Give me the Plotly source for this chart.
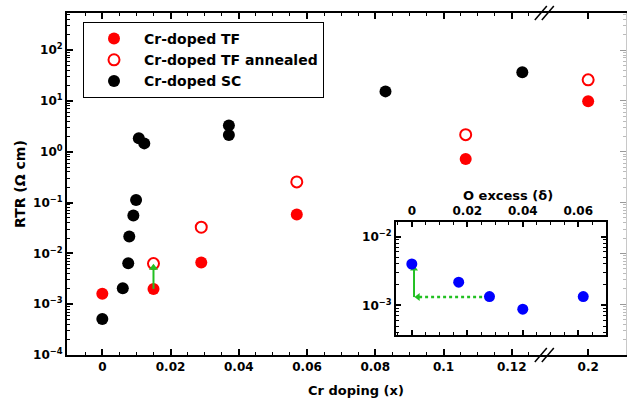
import numpy as np
import plotly.graph_objects as go

# ---------------- data ----------------
tf_x = [0.0, 0.015, 0.029, 0.057, 0.1065, 0.2]
tf_y = [1.6e-3, 2.0e-3, 6.6e-3, 0.058, 0.72, 9.8]

tfa_x = [0.015, 0.029, 0.057, 0.1065, 0.2]
tfa_y = [6.3e-3, 0.0327, 0.255, 2.17, 26.0]

sc_x = [0.0, 0.006, 0.0076, 0.0079, 0.0091, 0.0099, 0.0107, 0.0123, 0.0371, 0.0371, 0.083, 0.1231]
sc_y = [5.1e-4, 2.06e-3, 6.4e-3, 0.0214, 0.0557, 0.112, 1.84, 1.46, 3.3, 2.14, 15.4, 36.7]

inset_x = [0.0, 0.0169, 0.028, 0.040, 0.0618]
inset_y = [4.0e-3, 2.17e-3, 1.34e-3, 8.8e-4, 1.34e-3]

# arrows (data coordinates): shaft from -> to, head drawn at "to"
main_arrow_x = [0.015, 0.015]
main_arrow_y = [2.0e-3, 5.2e-3]
inset_vert_x = [0.0008, 0.0008]
inset_vert_y = [1.32e-3, 3.4e-3]
inset_horiz_x = [0.0275, 0.0022]
inset_horiz_y = [1.32e-3, 1.32e-3]

x_major = [0, 0.02, 0.04, 0.06, 0.08, 0.1, 0.12, 0.2]
x_major_text = ["0", "0.02", "0.04", "0.06", "0.08", "0.1", "0.12", "0.2"]
y_major = [1e-4, 1e-3, 1e-2, 1e-1, 1e0, 1e1, 1e2]
y_major_text = ["10<sup>\u22124</sup>", "10<sup>\u22123</sup>", "10<sup>\u22122</sup>",
                "10<sup>\u22121</sup>", "10<sup>0</sup>", "10<sup>1</sup>", "10<sup>2</sup>"]
inset_x_major = [0, 0.02, 0.04, 0.06]
inset_x_text = ["0", "0.02", "0.04", "0.06"]
inset_y_major = [1e-3, 1e-2]
inset_y_text = ["10<sup>\u22123</sup>", "10<sup>\u22122</sup>"]

# ---------------- broken axis mapping ----------------
BREAK_AT = 0.1297      # where the // marks sit on the compressed axis
SHOWN_02 = 0.1424      # where x = 0.2 is drawn on the compressed axis


def to_axis(v):
    return v if v < 0.15 else SHOWN_02 + (v - 0.2)


def tx(arr):
    return [to_axis(v) for v in arr]


FONT = "DejaVu Sans"
RED = "#ff0000"
GREEN = "#22c022"
BLUE = "#0000ff"

W, H = 629, 403
ML, MR, MT, MB = 67, 3, 13, 48
PW = W - ML - MR
PH = H - MT - MB


def px_x(p):
    return (p - ML) / PW


def px_y(p):
    return (H - MB - p) / PH


fig = go.Figure()

fig.add_trace(go.Scatter(x=tx(tf_x), y=tf_y, mode="markers", name="Cr-doped TF",
                         marker=dict(color=RED, size=12, line=dict(width=0))))
fig.add_trace(go.Scatter(x=tx(tfa_x), y=tfa_y, mode="markers", name="Cr-doped TF annealed",
                         marker=dict(color=RED, size=11, symbol="circle-open", line=dict(width=2, color=RED))))
fig.add_trace(go.Scatter(x=tx(sc_x), y=sc_y, mode="markers", name="Cr-doped SC",
                         marker=dict(color="black", size=12, line=dict(width=0))))

# main green arrow
fig.add_trace(go.Scatter(x=main_arrow_x, y=main_arrow_y, mode="lines", showlegend=False,
                         line=dict(color=GREEN, width=2), hoverinfo="skip"))
fig.add_trace(go.Scatter(x=main_arrow_x[-1:], y=main_arrow_y[-1:], mode="markers", showlegend=False,
                         marker=dict(symbol="triangle-up", size=8, color=GREEN, line=dict(width=0)),
                         hoverinfo="skip"))

# right spine helper trace (invisible)
fig.add_trace(go.Scatter(x=[0], y=[1], yaxis="y2", mode="markers", showlegend=False,
                         marker=dict(opacity=0), hoverinfo="skip"))

# inset arrows
fig.add_trace(go.Scatter(x=inset_horiz_x, y=inset_horiz_y, xaxis="x2", yaxis="y3", mode="lines",
                         showlegend=False, line=dict(color=GREEN, width=2.5, dash="dot"), hoverinfo="skip"))
fig.add_trace(go.Scatter(x=inset_horiz_x[-1:], y=inset_horiz_y[-1:], xaxis="x2", yaxis="y3", mode="markers",
                         showlegend=False, marker=dict(symbol="triangle-left", size=7, color=GREEN,
                                                       line=dict(width=0)), hoverinfo="skip"))
fig.add_trace(go.Scatter(x=inset_vert_x, y=inset_vert_y, xaxis="x2", yaxis="y3", mode="lines",
                         showlegend=False, line=dict(color=GREEN, width=2), hoverinfo="skip"))
fig.add_trace(go.Scatter(x=inset_vert_x[-1:], y=inset_vert_y[-1:], xaxis="x2", yaxis="y3", mode="markers",
                         showlegend=False, marker=dict(symbol="triangle-up", size=7, color=GREEN,
                                                       line=dict(width=0)), hoverinfo="skip"))
# inset data
fig.add_trace(go.Scatter(x=inset_x, y=inset_y, xaxis="x2", yaxis="y3", mode="markers",
                         showlegend=False, marker=dict(color=BLUE, size=11, line=dict(width=0))))

# minor tick values
x_minor = [round(v, 4) for v in np.arange(-0.005, 0.1251, 0.005) if abs((v / 0.02) - round(v / 0.02)) > 1e-6]
y_minor = [m * 10.0 ** d for d in range(-4, 3) for m in range(2, 10)]
inset_y_minor = [m * 10.0 ** d for d in range(-4, -1) for m in range(2, 10)]

axis_font = dict(family=FONT, size=12, color="black", weight="bold")

fig.update_layout(
    width=W, height=H,
    margin=dict(l=ML, r=MR, t=MT, b=MB),
    paper_bgcolor="white", plot_bgcolor="white",
    font=dict(family=FONT, color="black"),
    showlegend=True,
    legend=dict(x=px_x(83), y=px_y(22), xanchor="left", yanchor="top",
                bgcolor="white", bordercolor="black", borderwidth=1,
                font=dict(family=FONT, size=14, color="black", weight="bold"),
                itemwidth=50, tracegroupgap=0),
    xaxis=dict(range=[-0.01035, 0.15349], showline=True, linecolor="black", linewidth=2,
               mirror="ticks", ticks="inside", ticklen=6, tickwidth=1.5, tickcolor="black",
               tickmode="array", tickvals=tx(x_major), ticktext=x_major_text,
               tickfont=axis_font, showgrid=False, zeroline=False,
               minor=dict(tickmode="array", tickvals=x_minor, ticks="inside", ticklen=3,
                          tickwidth=1.2, tickcolor="black", showgrid=False)),
    yaxis=dict(type="log", range=[-4, 2.73], showline=True, linecolor="black", linewidth=2,
               ticks="inside", ticklen=6, tickwidth=1.5, tickcolor="black",
               tickmode="array", tickvals=y_major, ticktext=y_major_text,
               tickfont=axis_font, showgrid=False, zeroline=False,
               minor=dict(tickmode="array", tickvals=y_minor, ticks="inside", ticklen=3,
                          tickwidth=1, tickcolor="black", showgrid=False)),
    yaxis2=dict(type="log", range=[-4, 2.73], overlaying="y", side="right", anchor="x",
                showline=True, linecolor="#c8c8c8", linewidth=1, ticks="inside", ticklen=6,
                tickcolor="#999999", tickmode="array", tickvals=y_major, showticklabels=False,
                showgrid=False, zeroline=False,
                minor=dict(tickmode="array", tickvals=y_minor, ticks="inside", ticklen=3,
                           tickcolor="#bbbbbb", showgrid=False)),
    xaxis2=dict(domain=[px_x(396), px_x(606)], anchor="y3", side="top",
                range=[-0.0057, 0.070], showline=True, linecolor="black", linewidth=2,
                mirror="ticks", ticks="inside", ticklen=5, tickwidth=1.5, tickcolor="black",
                tickmode="array", tickvals=inset_x_major, ticktext=inset_x_text,
                tickfont=axis_font, showgrid=False, zeroline=False,
                minor=dict(dtick=0.005, tick0=0, ticks="inside", ticklen=3, tickwidth=1,
                           tickcolor="black", showgrid=False)),
    yaxis3=dict(domain=[px_y(335), px_y(221.7)], anchor="x2", type="log",
                range=[-3.432, -1.782], showline=True, linecolor="black", linewidth=2,
                mirror="ticks", ticks="inside", ticklen=5, tickwidth=1.5, tickcolor="black",
                tickmode="array", tickvals=inset_y_major, ticktext=inset_y_text,
                tickfont=axis_font, showgrid=False, zeroline=False,
                minor=dict(tickmode="array", tickvals=inset_y_minor, ticks="inside", ticklen=3,
                           tickwidth=1, tickcolor="black", showgrid=False)),
)

# inset white background
fig.add_shape(type="rect", xref="paper", yref="paper", x0=px_x(396), x1=px_x(606),
              y0=px_y(335), y1=px_y(221.7), fillcolor="white", line=dict(width=0), layer="below")

# axis-break marks
for yp in (0, 1):
    for off in (-4, 3):
        fig.add_shape(type="line", xref="x", yref="paper", xsizemode="pixel", ysizemode="pixel",
                      xanchor=BREAK_AT, yanchor=yp, x0=off - 6, x1=off + 6, y0=-7, y1=7,
                      line=dict(color="black", width=1.5))

# axis titles
title_font = dict(family=FONT, size=13, color="black", weight="bold")
fig.add_annotation(text="Cr doping (x)", xref="paper", yref="paper", x=px_x(356), y=px_y(390),
                   xanchor="center", yanchor="middle", showarrow=False, font=title_font)
fig.add_annotation(text="RTR (\u03a9 cm)", xref="paper", yref="paper", x=px_x(20), y=px_y(184),
                   xanchor="center", yanchor="middle", textangle=-90, showarrow=False,
                   font=dict(family=FONT, size=14, color="black", weight="bold"))
fig.add_annotation(text="O excess (\u03b4)", xref="paper", yref="paper", x=px_x(508), y=px_y(195),
                   xanchor="center", yanchor="middle", showarrow=False, font=title_font)

fig.write_html("out.html")
